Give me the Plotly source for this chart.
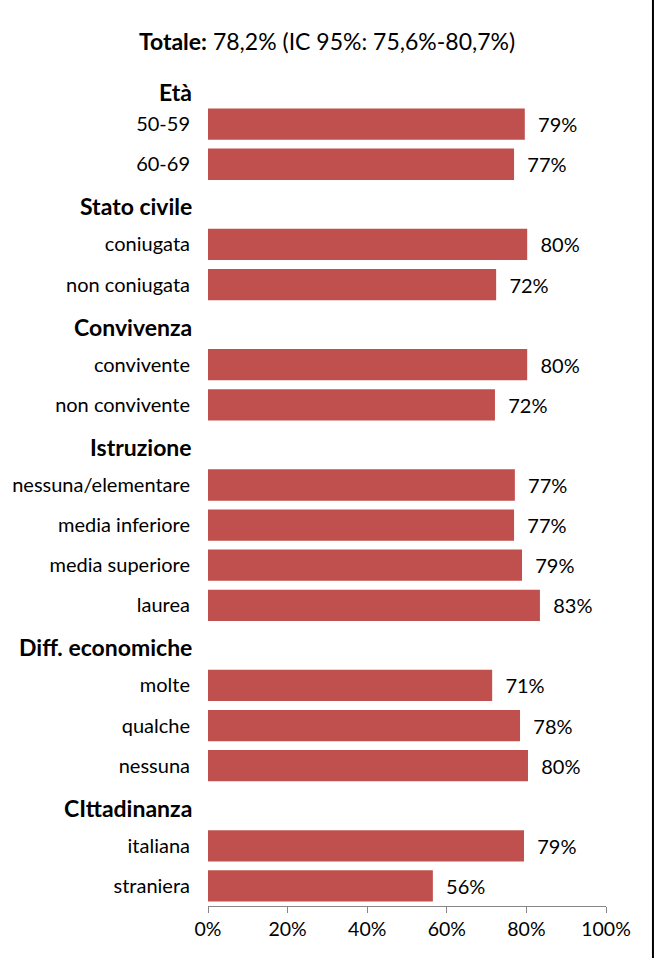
import plotly.graph_objects as go

keys = ["h_eta", "50-59", "60-69", "h_stato", "coniugata", "non coniugata",
        "h_conv", "convivente", "non convivente", "h_istr", "nessuna/elementare",
        "media inferiore", "media superiore", "laurea", "h_diff", "molte",
        "qualche", "nessuna", "h_citt", "italiana", "straniera"]
tick_labels = ["Età", "50-59", "60-69", "Stato civile", "coniugata", "non coniugata",
               "Convivenza", "convivente", "non convivente", "Istruzione",
               "nessuna/elementare", "media inferiore", "media superiore", "laurea",
               "Diff. economiche", "molte", "qualche", "nessuna",
               "CIttadinanza", "italiana", "straniera"]
is_header = [k.startswith("h_") for k in keys]
values = [None, 79.6, 76.9, None, 80.2, 72.4, None, 80.2, 72.1, None, 77.1,
          76.9, 78.9, 83.4, None, 71.4, 78.4, 80.4, None, 79.4, 56.5]
value_labels = ["", "79%", "77%", "", "80%", "72%", "", "80%", "72%", "", "77%",
                "77%", "79%", "83%", "", "71%", "78%", "80%", "", "79%", "56%"]
x_ticks = [0, 20, 40, 60, 80, 100]
x_tick_labels = ["0%", "20%", "40%", "60%", "80%", "100%"]

FONT = "Lato"

ticktext = ["" if h else t for t, h in zip(tick_labels, is_header)]

fig = go.Figure()
fig.add_trace(go.Bar(
    y=keys, x=values, orientation="h",
    marker=dict(color="#C0504D", line=dict(width=0)),
    text=["  " + t if t else "" for t in value_labels],
    textposition="outside", cliponaxis=False,
    textfont=dict(family=FONT, size=20, color="#000000"),
    hoverinfo="skip",
))

annotations = []
for i, (k, t, h) in enumerate(zip(keys, tick_labels, is_header)):
    if h:
        annotations.append(dict(
            x=0, xref="paper", y=k, yref="y", xanchor="right", yanchor="middle",
            xshift=-14, yshift=(-8 if i == 0 else -2),
            text=f"<b>{t}</b>", showarrow=False,
            font=dict(family=FONT, size=23, color="#000000")))

fig.update_layout(
    width=654, height=958,
    margin=dict(l=208, r=48, t=64, b=52, autoexpand=False),
    paper_bgcolor="white", plot_bgcolor="white",
    bargap=0.22, showlegend=False,
    title=dict(text="<b>Totale:</b> 78,2% (IC 95%: 75,6%-80,7%)",
               x=0.5, xref="container", xanchor="center", y=1 - 42 / 958, yanchor="middle",
               font=dict(family=FONT, size=23, color="#000000")),
    xaxis=dict(range=[0, 100], tickvals=x_ticks, ticktext=x_tick_labels,
               showgrid=False, zeroline=False, showline=True, linecolor="#868686",
               linewidth=1, ticks="outside", ticklen=6, tickcolor="#868686",
               automargin=False,
               tickfont=dict(family=FONT, size=19.5, color="#000000"), fixedrange=True),
    yaxis=dict(categoryorder="array", categoryarray=keys,
               range=[len(keys) - 0.5, -0.5], autorange=False, automargin=False,
               tickvals=keys, ticktext=ticktext, showgrid=False, zeroline=False,
               showline=False, ticks="", ticklabelstandoff=17,
               tickfont=dict(family=FONT, size=20, color="#000000"), fixedrange=True),
    annotations=annotations,
    shapes=[dict(type="line", xref="paper", yref="paper", x0=1.118, x1=1.118,
                 y0=-0.07, y1=1.08, line=dict(color="#000000", width=2))],
)

fig.write_html("out.html")
